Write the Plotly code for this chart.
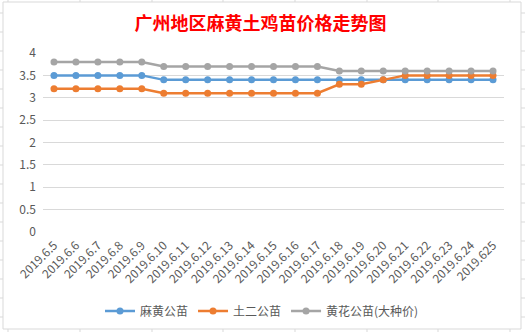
import plotly.graph_objects as go

dates = ["2019.6.5", "2019.6.6", "2019.6.7", "2019.6.8", "2019.6.9", "2019.6.10",
         "2019.6.11", "2019.6.12", "2019.6.13", "2019.6.14", "2019.6.15", "2019.6.16",
         "2019.6.17", "2019.6.18", "2019.6.19", "2019.6.20", "2019.6.21", "2019.6.22",
         "2019.6.23", "2019.6.24", "2019.625"]
mahuang = [3.5, 3.5, 3.5, 3.5, 3.5, 3.4, 3.4, 3.4, 3.4, 3.4, 3.4, 3.4,
           3.4, 3.4, 3.4, 3.4, 3.4, 3.4, 3.4, 3.4, 3.4]
tuer = [3.2, 3.2, 3.2, 3.2, 3.2, 3.1, 3.1, 3.1, 3.1, 3.1, 3.1, 3.1,
        3.1, 3.3, 3.3, 3.4, 3.5, 3.5, 3.5, 3.5, 3.5]
huanghua = [3.8, 3.8, 3.8, 3.8, 3.8, 3.7, 3.7, 3.7, 3.7, 3.7, 3.7, 3.7,
            3.7, 3.6, 3.6, 3.6, 3.6, 3.6, 3.6, 3.6, 3.6]
series_names = ["麻黄公苗", "土二公苗", "黄花公苗(大种价)"]
colors = ["#5B9BD5", "#ED7D31", "#A5A5A5"]
y_ticks = [0, 0.5, 1, 1.5, 2, 2.5, 3, 3.5, 4]

W, H = 525, 332
ML, MR, MT, MB = 43, 21, 53, 100
PW, PH = W - ML - MR, H - MT - MB

def px(x):
    return (x - ML) / PW

def py(y):
    return (H - MB - y) / PH

fig = go.Figure()
for name, vals, col in zip(series_names, [mahuang, tuer, huanghua], colors):
    fig.add_trace(go.Scatter(
        x=dates, y=vals, name=name, mode="lines+markers",
        line=dict(color=col, width=2.5),
        marker=dict(color=col, size=7),
    ))

shapes = []
grid_col = "#d9d9d9"
# chart border
shapes.append(dict(type="rect", xref="paper", yref="paper",
                   x0=px(3), x1=px(521), y0=py(329), y1=py(2),
                   line=dict(color=grid_col, width=1), layer="below"))
# spreadsheet grid stubs outside the chart
for gx in [8, 80, 152, 223, 295, 367, 438, 510]:
    shapes.append(dict(type="line", xref="paper", yref="paper",
                       x0=px(gx), x1=px(gx), y0=py(0), y1=py(2),
                       line=dict(color=grid_col, width=1)))
    shapes.append(dict(type="line", xref="paper", yref="paper",
                       x0=px(gx), x1=px(gx), y0=py(329), y1=py(332),
                       line=dict(color=grid_col, width=1)))
for i in range(17):
    gy = 13 + 19 * i
    shapes.append(dict(type="line", xref="paper", yref="paper",
                       x0=px(0), x1=px(3), y0=py(gy), y1=py(gy),
                       line=dict(color=grid_col, width=1)))
    shapes.append(dict(type="line", xref="paper", yref="paper",
                       x0=px(521), x1=px(525), y0=py(gy), y1=py(gy),
                       line=dict(color=grid_col, width=1)))

fig.update_layout(
    width=W, height=H,
    margin=dict(l=ML, r=MR, t=MT, b=MB, autoexpand=False),
    paper_bgcolor="white", plot_bgcolor="white",
    font=dict(family="Noto Sans CJK SC", color="#595959", size=12),
    title=dict(text="<b>广州地区麻黄土鸡苗价格走势图</b>", x=0.496, xanchor="center",
               y=1 - 24 / H, yanchor="middle",
               font=dict(size=18, color="#FF0000", family="Noto Sans CJK SC")),
    xaxis=dict(type="category", tickangle=-45, showgrid=False, showline=False,
               zeroline=False, ticks="", tickfont=dict(size=12, color="#595959"),
               ticklabelstandoff=3, automargin=False,
               range=[-0.5, len(dates) - 0.5], fixedrange=True),
    yaxis=dict(range=[0, 4], tickvals=y_ticks, ticktext=[f"{v:g}" for v in y_ticks],
               showgrid=True, gridcolor=grid_col, gridwidth=1, zeroline=False,
               showline=False, ticks="", ticklabelstandoff=6, automargin=False,
               tickfont=dict(size=12, color="#595959"), fixedrange=True),
    legend=dict(orientation="h", x=px(262), xanchor="center", y=py(311), yanchor="middle",
                font=dict(size=12, color="#595959"), itemwidth=30,
                bgcolor="rgba(0,0,0,0)"),
    shapes=shapes,
    showlegend=True,
)

fig.write_html("out.html")
